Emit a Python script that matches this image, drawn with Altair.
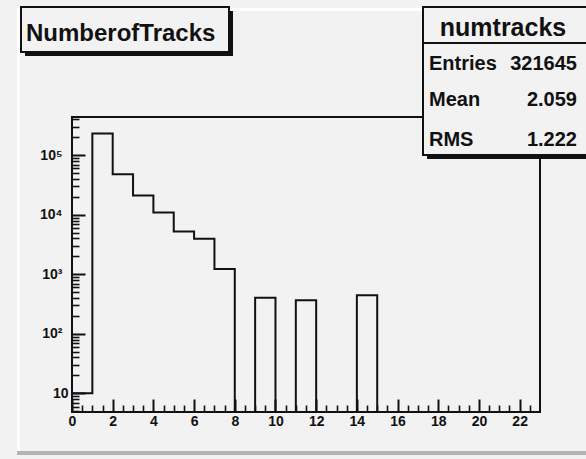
import json
import altair as alt
import pandas as pd

# ---------------- data ----------------
bin_low = list(range(0, 23))                     # lower edges of the unit-width bins
counts = [10, 232000, 47900, 21000, 10900, 5240, 3950, 1230, 0, 405, 0, 366,
          0, 0, 444, 0, 0, 0, 0, 0, 0, 0, 0]
x_max = 23
y_lo, y_hi = 4.85, 4.4e5

x_major = list(range(0, 23, 2))
x_tick_labels = [str(v) for v in x_major]
x_minor = [k / 2 for k in range(1, 46) if k % 4 != 0]
y_major = [10, 100, 1000, 10000, 100000]
y_tick_labels = ["10", "10²", "10³", "10⁴", "10⁵"]
y_minor = [m * 10 ** e for e in range(0, 6) for m in range(2, 10) if y_lo <= m * 10 ** e <= y_hi]

hist_title = "NumberofTracks"
stats_title = "numtracks"
stats_keys = ["Entries", "Mean", "RMS"]
stats_vals = ["321645", "2.059", "1.222"]

# ---------------- layout ----------------
W, H = 468, 295
BG = "#f2f2f2"
INK = "#111111"
FONT = "Liberation Sans"

step_df = pd.DataFrame({
    "i": list(range(len(bin_low) + 2)),
    "x": [0] + bin_low + [x_max],
    "n": [0] + counts + [counts[-1]],
})
one = pd.DataFrame({"x": [0.0], "y": [10.0]})

xscale = alt.Scale(domain=[0, x_max], nice=False, zero=False)
yscale = alt.Scale(type="log", domain=[y_lo, y_hi], nice=False)

common = dict(grid=False, domain=False, title=None, labelFlush=False, labelOverlap=False,
              labelFont=FONT, labelFontWeight="bold", labelFontSize=14, labelColor=INK,
              tickColor=INK)


def lab_expr(labels, values):
    return f"{json.dumps(labels, ensure_ascii=False)}[indexof({json.dumps(values)}, datum.value)]"


x_lab_axis = alt.Axis(orient="bottom", values=x_major, ticks=False, tickSize=0, labelPadding=2,
                      labelExpr=lab_expr(x_tick_labels, x_major), **common)
y_lab_axis = alt.Axis(orient="left", values=y_major[1:], ticks=False, tickSize=0, labelPadding=10,
                      labelExpr=lab_expr(y_tick_labels, y_major), **common)
y_lab10_axis = alt.Axis(orient="left", values=y_major[:1], ticks=False, tickSize=0, labelPadding=4,
                        labelExpr=lab_expr(y_tick_labels, y_major), **common)
x_maj_axis = alt.Axis(orient="bottom", values=x_major, labels=False, tickSize=13, tickWidth=2,
                      offset=-13, **common)
x_min_axis = alt.Axis(orient="bottom", values=x_minor, labels=False, tickSize=7, tickWidth=1.6,
                      offset=-7, **common)
y_maj_axis = alt.Axis(orient="left", values=y_major, labels=False, tickSize=13, tickWidth=2,
                      offset=-13, **common)
y_min_axis = alt.Axis(orient="left", values=y_minor, labels=False, tickSize=7, tickWidth=1.6,
                      offset=-7, **common)


def box(x1, x2, y1, y2, **kw):
    return alt.Chart(one).mark_rect(**kw).encode(
        x=alt.value(x1), x2=alt.value(x2), y=alt.value(y1), y2=alt.value(y2))


def axis_layer(xa, ya):
    return alt.Chart(one).mark_point(opacity=0).encode(
        x=alt.X("x:Q", scale=xscale, axis=xa),
        y=alt.Y("y:Q", scale=yscale, axis=ya))


def label(txt, x, y, size, align="left"):
    return alt.Chart(one).mark_text(font=FONT, fontWeight="bold", fontSize=size, color=INK,
                                    align=align, baseline="alphabetic").encode(
        x=alt.value(x), y=alt.value(y), text=alt.value(txt))


layers = [
    # pad bevel
    box(-55, 520, -109, -106, color="white"),
    box(-55, -52, -109, 335, color="white"),
    box(-55, 520, 334, 338, color="#b4b4b4"),
    # frame
    box(0, W, 0, H, fillOpacity=0, stroke=INK, strokeWidth=2),
]

hist = alt.Chart(step_df).transform_calculate(yc="max(datum.n, 1)").mark_line(
    interpolate="step-after", color=INK, strokeWidth=2, clip=True
).encode(
    x=alt.X("x:Q", scale=xscale, axis=x_lab_axis),
    y=alt.Y("yc:Q", scale=yscale, axis=y_lab_axis),
    order="i:Q",
)
layers += [
    hist,
    axis_layer(x_maj_axis, y_maj_axis),
    axis_layer(x_min_axis, y_min_axis),
    axis_layer(None, y_lab10_axis),
]

# title box
layers += [
    box(-47, 161, -106, -61, color=INK),
    box(-51, 157, -110, -65, fill=BG, stroke=INK, strokeWidth=2),
    label(hist_title, -46, -76, 24),
]

# stats box
layers += [
    box(355, 524, -106, 42, color=INK),
    box(351, 520, -110, 38, fill=BG, stroke=INK, strokeWidth=2),
    alt.Chart(one).mark_rule(color=INK, strokeWidth=2).encode(
        x=alt.value(351), x2=alt.value(520), y=alt.value(-74)),
    label(stats_title, 431, -81, 25, "center"),
]
row_y = [-47, -11, 29]
for k, v, yy in zip(stats_keys, stats_vals, row_y):
    layers.append(label(k, 357, yy, 20))
    layers.append(label(v, 505, yy, 20, "right"))

chart = alt.layer(*layers).resolve_axis(x="independent", y="independent").properties(
    width=W, height=H,
    padding={"left": 72, "top": 117, "right": 46, "bottom": 47},
    autosize=alt.AutoSizeParams(type="none"),
    background=BG,
).configure_view(strokeWidth=0)

chart.save("out.html", embed_options={"renderer": "svg", "actions": False})
